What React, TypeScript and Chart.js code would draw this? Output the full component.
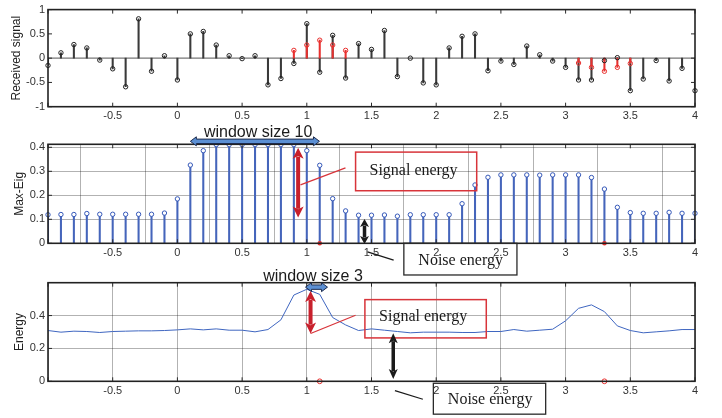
import React, { useEffect, useRef } from 'react';
import { Chart, registerables } from 'chart.js';

Chart.register(...registerables);

// ---------- data ----------
const xValues = [
  -1.0, -0.9, -0.8, -0.7, -0.6, -0.5, -0.4, -0.3, -0.2, -0.1,
  0.0, 0.1, 0.2, 0.3, 0.4, 0.5, 0.6, 0.7, 0.8, 0.9,
  1.0, 1.1, 1.2, 1.3, 1.4, 1.5, 1.6, 1.7, 1.8, 1.9,
  2.0, 2.1, 2.2, 2.3, 2.4, 2.5, 2.6, 2.7, 2.8, 2.9,
  3.0, 3.1, 3.2, 3.3, 3.4, 3.5, 3.6, 3.7, 3.8, 3.9,
  4.0,
];

const receivedSignal = [
  -0.15, 0.11, 0.28, 0.21, -0.04, -0.22, -0.59, 0.81, -0.27, 0.05,
  -0.45, 0.50, 0.55, 0.27, 0.05, -0.01, 0.05, -0.55, -0.42, -0.11,
  0.71, -0.29, 0.47, -0.41, 0.30, 0.18, 0.57, -0.38, 0.00, -0.51,
  -0.55, 0.21, 0.45, 0.50, -0.26, -0.06, -0.13, 0.25, 0.07, -0.06,
  -0.19, -0.45, -0.45, -0.05, 0.01, -0.67, -0.43, -0.05, -0.47, -0.21,
  -0.67,
];

const primarySignal: (number | null)[] = [
  null, null, null, null, null, null, null, null, null, null,
  null, null, null, null, null, null, null, null, null, 0.16,
  0.27, 0.37, 0.27, 0.16, null, null, null, null, null, null,
  null, null, null, null, null, null, null, null, null, null,
  null, -0.10, -0.19, -0.27, -0.19, -0.11, null, null, null, null,
  null,
];

const maxEig = [
  0.119, 0.120, 0.120, 0.124, 0.121, 0.121, 0.121, 0.121, 0.121, 0.126,
  0.185, 0.326, 0.386, 0.411, 0.411, 0.411, 0.411, 0.411, 0.411, 0.411,
  0.386, 0.325, 0.186, 0.135, 0.117, 0.117, 0.118, 0.113, 0.119, 0.119,
  0.119, 0.119, 0.165, 0.243, 0.275, 0.285, 0.285, 0.285, 0.284, 0.285,
  0.285, 0.285, 0.274, 0.226, 0.150, 0.128, 0.125, 0.125, 0.129, 0.125,
  0.125,
];

const energy = [
  0.309, 0.299, 0.305, 0.303, 0.297, 0.303, 0.305, 0.307, 0.307, 0.309,
  0.313, 0.319, 0.313, 0.319, 0.311, 0.311, 0.301, 0.315, 0.374, 0.525,
  0.560, 0.529, 0.388, 0.343, 0.309, 0.319, 0.311, 0.303, 0.295, 0.299,
  0.299, 0.299, 0.297, 0.297, 0.303, 0.303, 0.315, 0.305, 0.311, 0.317,
  0.368, 0.444, 0.465, 0.424, 0.337, 0.309, 0.295, 0.301, 0.307, 0.315,
  0.315,
];

const detectionX = [1.1, 3.3];
const detectionY = [0, 0];

const xTicks = [-1, -0.5, 0, 0.5, 1, 1.5, 2, 2.5, 3, 3.5, 4];
const xTickLabels = ['', '-0.5', '0', '0.5', '1', '1.5', '2', '2.5', '3', '3.5', '4'];
const y1Ticks = [-1, -0.5, 0, 0.5, 1];
const y1TickLabels = ['-1', '-0.5', '0', '0.5', '1'];
const y2Ticks = [0, 0.1, 0.2, 0.3, 0.4];
const y2TickLabels = ['0', '0.1', '0.2', '0.3', '0.4'];
const y3Ticks = [0, 0.2, 0.4];
const y3TickLabels = ['0', '0.2', '0.4'];

// ---------- helpers ----------
const SANS = '"Liberation Sans", Arial, sans-serif';
const SERIF = '"Liberation Serif", "Times New Roman", serif';

const pts = (ys: (number | null)[]) =>
  xValues.map((x, i) => ({ x, y: ys[i] })).filter((p) => p.y !== null) as { x: number; y: number }[];

function xScale(grid: boolean) {
  return {
    type: 'linear',
    min: -1,
    max: 4,
    offset: false,
    afterBuildTicks: (s: any) => {
      s.ticks = xTicks.map((v) => ({ value: v }));
    },
    afterFit: (s: any) => {
      s.height = 20;
    },
    grid: { display: grid, color: 'rgba(0,0,0,0.3)', lineWidth: 1, drawTicks: false },
    border: { display: false },
    ticks: {
      padding: 3,
      autoSkip: false,
      maxRotation: 0,
      color: '#333',
      font: { family: SANS, size: 11 },
      callback: (_v: any, i: number) => xTickLabels[i] ?? '',
    },
  };
}

function yScale(min: number, max: number, ticks: number[], labels: string[], title: string, grid: boolean, titlePad: number) {
  return {
    type: 'linear',
    min,
    max,
    afterBuildTicks: (s: any) => {
      s.ticks = ticks.map((v) => ({ value: v }));
    },
    afterFit: (s: any) => {
      s.width = 48;
    },
    grid: { display: grid, color: 'rgba(0,0,0,0.3)', lineWidth: 1, drawTicks: false },
    border: { display: false },
    ticks: {
      padding: 3,
      color: '#333',
      font: { family: SANS, size: 11 },
      callback: (_v: any, i: number) => labels[i] ?? '',
    },
    title: {
      display: true,
      text: title,
      color: '#222',
      font: { family: SANS, size: 12 },
      padding: { top: titlePad, bottom: 0 },
    },
  };
}

function arrowV(ctx: CanvasRenderingContext2D, x: number, y1: number, y2: number, color: string, shaft: number, headW: number, headL: number) {
  ctx.save();
  ctx.strokeStyle = color;
  ctx.fillStyle = color;
  ctx.lineWidth = shaft;
  ctx.beginPath();
  ctx.moveTo(x, y1 + headL * 0.8);
  ctx.lineTo(x, y2 - headL * 0.8);
  ctx.stroke();
  ctx.beginPath();
  ctx.moveTo(x, y1);
  ctx.lineTo(x - headW / 2, y1 + headL);
  ctx.lineTo(x, y1 + headL * 0.75);
  ctx.lineTo(x + headW / 2, y1 + headL);
  ctx.closePath();
  ctx.fill();
  ctx.beginPath();
  ctx.moveTo(x, y2);
  ctx.lineTo(x - headW / 2, y2 - headL);
  ctx.lineTo(x, y2 - headL * 0.75);
  ctx.lineTo(x + headW / 2, y2 - headL);
  ctx.closePath();
  ctx.fill();
  ctx.restore();
}

function arrowH(ctx: CanvasRenderingContext2D, x1: number, x2: number, y: number) {
  const h = 2.2, hh = 4.5, hl = 6;
  ctx.save();
  ctx.beginPath();
  ctx.moveTo(x1, y);
  ctx.lineTo(x1 + hl, y - hh);
  ctx.lineTo(x1 + hl, y - h);
  ctx.lineTo(x2 - hl, y - h);
  ctx.lineTo(x2 - hl, y - hh);
  ctx.lineTo(x2, y);
  ctx.lineTo(x2 - hl, y + hh);
  ctx.lineTo(x2 - hl, y + h);
  ctx.lineTo(x1 + hl, y + h);
  ctx.lineTo(x1 + hl, y + hh);
  ctx.closePath();
  ctx.fillStyle = '#5b8fd3';
  ctx.fill();
  ctx.strokeStyle = '#1d2b4c';
  ctx.lineWidth = 1;
  ctx.stroke();
  ctx.restore();
}

function line(ctx: CanvasRenderingContext2D, x1: number, y1: number, x2: number, y2: number, color: string, w: number) {
  ctx.save();
  ctx.strokeStyle = color;
  ctx.lineWidth = w;
  ctx.beginPath();
  ctx.moveTo(x1, y1);
  ctx.lineTo(x2, y2);
  ctx.stroke();
  ctx.restore();
}

function box(ctx: CanvasRenderingContext2D, x1: number, y1: number, x2: number, y2: number, color: string, w: number) {
  ctx.save();
  ctx.strokeStyle = color;
  ctx.lineWidth = w;
  ctx.strokeRect(x1, y1, x2 - x1, y2 - y1);
  ctx.restore();
}

function text(ctx: CanvasRenderingContext2D, s: string, x: number, y: number, font: string) {
  ctx.save();
  ctx.font = font;
  ctx.fillStyle = '#1a1a1a';
  ctx.textAlign = 'center';
  ctx.textBaseline = 'middle';
  ctx.fillText(s, x, y);
  ctx.restore();
}

function framePlugin(yTicks: number[], zeroLine: boolean, annotate?: (ctx: CanvasRenderingContext2D, px: (v: number) => number, py: (v: number) => number) => void) {
  return {
    id: 'frame',
    beforeDatasetsDraw(chart: any) {
      if (!zeroLine) return;
      const { ctx, chartArea: a, scales } = chart;
      const y0 = scales.y.getPixelForValue(0);
      line(ctx, a.left, y0, a.right, y0, '#777', 1.3);
    },
    afterDatasetsDraw(chart: any) {
      const { ctx, chartArea: a, scales } = chart;
      ctx.save();
      ctx.strokeStyle = '#2a2a2a';
      ctx.lineWidth = 1;
      ctx.beginPath();
      xTicks.forEach((v) => {
        const x = scales.x.getPixelForValue(v);
        ctx.moveTo(x, a.top);
        ctx.lineTo(x, a.top + 4);
        ctx.moveTo(x, a.bottom);
        ctx.lineTo(x, a.bottom - 4);
      });
      yTicks.forEach((v) => {
        const y = scales.y.getPixelForValue(v);
        ctx.moveTo(a.left, y);
        ctx.lineTo(a.left + 4, y);
        ctx.moveTo(a.right, y);
        ctx.lineTo(a.right - 4, y);
      });
      ctx.stroke();
      ctx.lineWidth = 1.6;
      ctx.strokeStyle = '#222';
      ctx.strokeRect(a.left, a.top, a.right - a.left, a.bottom - a.top);
      ctx.restore();
    },
    afterDraw(chart: any) {
      if (!annotate) return;
      const { ctx, scales } = chart;
      annotate(ctx, (v) => scales.x.getPixelForValue(v), (v) => scales.y.getPixelForValue(v));
    },
  };
}

const W = 722;
const H = 418;
const RIGHT_PAD = 27;

export default function App() {
  const c1 = useRef<HTMLCanvasElement>(null);
  const c2 = useRef<HTMLCanvasElement>(null);
  const c3 = useRef<HTMLCanvasElement>(null);

  useEffect(() => {
    const common = {
      animation: false,
      responsive: false,
      devicePixelRatio: 1,
      events: [],
      plugins: { legend: { display: false }, tooltip: { enabled: false } },
    };

    const chart1 = new Chart(c1.current!, {
      type: 'bar',
      data: {
        datasets: [
          {
            type: 'line',
            data: pts(primarySignal),
            showLine: false,
            pointRadius: 2.2,
            pointBorderWidth: 1,
            pointBorderColor: '#e8312f',
            pointBackgroundColor: 'rgba(0,0,0,0)',
            clip: false,
            order: 0,
          },
          {
            type: 'line',
            data: pts(receivedSignal),
            showLine: false,
            pointRadius: 2.2,
            pointBorderWidth: 1,
            pointBorderColor: '#222',
            pointBackgroundColor: 'rgba(0,0,0,0)',
            clip: false,
            order: 1,
          },
          {
            type: 'bar',
            data: pts(primarySignal),
            backgroundColor: '#e8312f',
            barThickness: 1.4,
            grouped: false,
            order: 2,
          },
          {
            type: 'bar',
            data: pts(receivedSignal),
            backgroundColor: '#3a3a3a',
            barThickness: 1.4,
            grouped: false,
            order: 3,
          },
        ],
      },
      options: {
        ...common,
        layout: { padding: { left: 0, right: RIGHT_PAD, top: 6.7, bottom: H - 106.7 - 20 } },
        scales: {
          x: xScale(false),
          y: yScale(-1, 1, y1Ticks, y1TickLabels, 'Received signal', false, 9),
        },
      },
      plugins: [framePlugin(y1Ticks, true)],
    } as any);

    const chart2 = new Chart(c2.current!, {
      type: 'bar',
      data: {
        datasets: [
          {
            type: 'line',
            data: detectionX.map((x, i) => ({ x, y: detectionY[i] })),
            showLine: false,
            pointRadius: 2.3,
            pointBorderWidth: 0,
            pointBackgroundColor: '#e8312f',
            clip: false,
            order: 0,
          },
          {
            type: 'line',
            data: pts(maxEig),
            showLine: false,
            pointRadius: 2.2,
            pointBorderWidth: 1,
            pointBorderColor: '#3558b8',
            pointBackgroundColor: 'rgba(255,255,255,1)',
            clip: false,
            order: 1,
          },
          {
            type: 'bar',
            data: pts(maxEig),
            backgroundColor: '#4565bb',
            barThickness: 1.4,
            grouped: false,
            order: 2,
          },
        ],
      },
      options: {
        ...common,
        layout: { padding: { left: 0, right: RIGHT_PAD, top: 144.3, bottom: H - 243.3 - 20 } },
        scales: {
          x: xScale(true),
          y: yScale(0, 0.4125, y2Ticks, y2TickLabels, 'Max-Eig', true, 12),
        },
      },
      plugins: [
        framePlugin(y2Ticks, false, (ctx, px, py) => {
          text(ctx, 'window size 10', px(0.624), py(0.461), `16px ${SANS}`);
          arrowH(ctx, px(0.1), px(1.098), py(0.425));
          arrowV(ctx, px(0.933), py(0.398), py(0.107), '#c8202c', 4, 11, 11);
          line(ctx, px(0.951), py(0.243), px(1.299), py(0.314), '#d8343a', 1.3);
          box(ctx, px(1.377), py(0.38), px(2.313), py(0.219), '#d8343a', 1.5);
          text(ctx, 'Signal energy', px(1.825), py(0.301), `16px ${SERIF}`);
          arrowV(ctx, px(1.446), py(0.101), py(-0.003), '#1a1a1a', 3.5, 9, 8);
          line(ctx, px(1.469), py(-0.036), px(1.671), py(-0.07), '#1a1a1a', 1.2);
          box(ctx, px(1.75), py(0.0), px(2.624), py(-0.132), '#2a2a2a', 1.3);
          text(ctx, 'Noise energy', px(2.189), py(-0.072), `16px ${SERIF}`);
        }),
      ],
    } as any);

    const chart3 = new Chart(c3.current!, {
      type: 'line',
      data: {
        datasets: [
          {
            data: detectionX.map((x, i) => ({ x, y: detectionY[i] })),
            showLine: false,
            pointRadius: 2.4,
            pointBorderWidth: 1,
            pointBorderColor: '#e8312f',
            pointBackgroundColor: 'rgba(0,0,0,0)',
            clip: false,
            order: 0,
          },
          {
            data: pts(energy),
            borderColor: '#3f66c0',
            borderWidth: 1,
            pointRadius: 0,
            tension: 0,
            order: 1,
          },
        ],
      },
      options: {
        ...common,
        layout: { padding: { left: 0, right: RIGHT_PAD, top: 282.7, bottom: H - 381.3 - 20 } },
        scales: {
          x: xScale(true),
          y: yScale(0, 0.6, y3Ticks, y3TickLabels, 'Energy', true, 12),
        },
      },
      plugins: [
        framePlugin(y3Ticks, false, (ctx, px, py) => {
          text(ctx, 'window size 3', px(1.048), py(0.636), `16px ${SANS}`);
          arrowH(ctx, px(0.99), px(1.16), py(0.573));
          arrowV(ctx, px(1.029), py(0.549), py(0.291), '#c8202c', 4, 11, 11);
          line(ctx, px(1.029), py(0.291), px(1.377), py(0.402), '#d8343a', 1.3);
          box(ctx, px(1.449), py(0.497), px(2.387), py(0.264), '#d8343a', 1.5);
          text(ctx, 'Signal energy', px(1.899), py(0.392), `16px ${SERIF}`);
          arrowV(ctx, px(1.668), py(0.293), py(0.014), '#1a1a1a', 3.5, 9, 10);
          line(ctx, px(1.681), py(-0.057), px(1.897), py(-0.109), '#1a1a1a', 1.2);
          box(ctx, px(1.978), py(-0.012), px(2.846), py(-0.2), '#2a2a2a', 1.3);
          text(ctx, 'Noise energy', px(2.417), py(-0.112), `16px ${SERIF}`);
        }),
      ],
    } as any);

    return () => {
      chart1.destroy();
      chart2.destroy();
      chart3.destroy();
    };
  }, []);

  const cs: React.CSSProperties = { position: 'absolute', left: 0, top: 0, width: W, height: H };
  return (
    <div style={{ position: 'absolute', left: 0, top: 0, width: W, height: H, background: '#fff' }}>
      <canvas ref={c1} width={W} height={H} style={cs} />
      <canvas ref={c2} width={W} height={H} style={cs} />
      <canvas ref={c3} width={W} height={H} style={cs} />
    </div>
  );
}
